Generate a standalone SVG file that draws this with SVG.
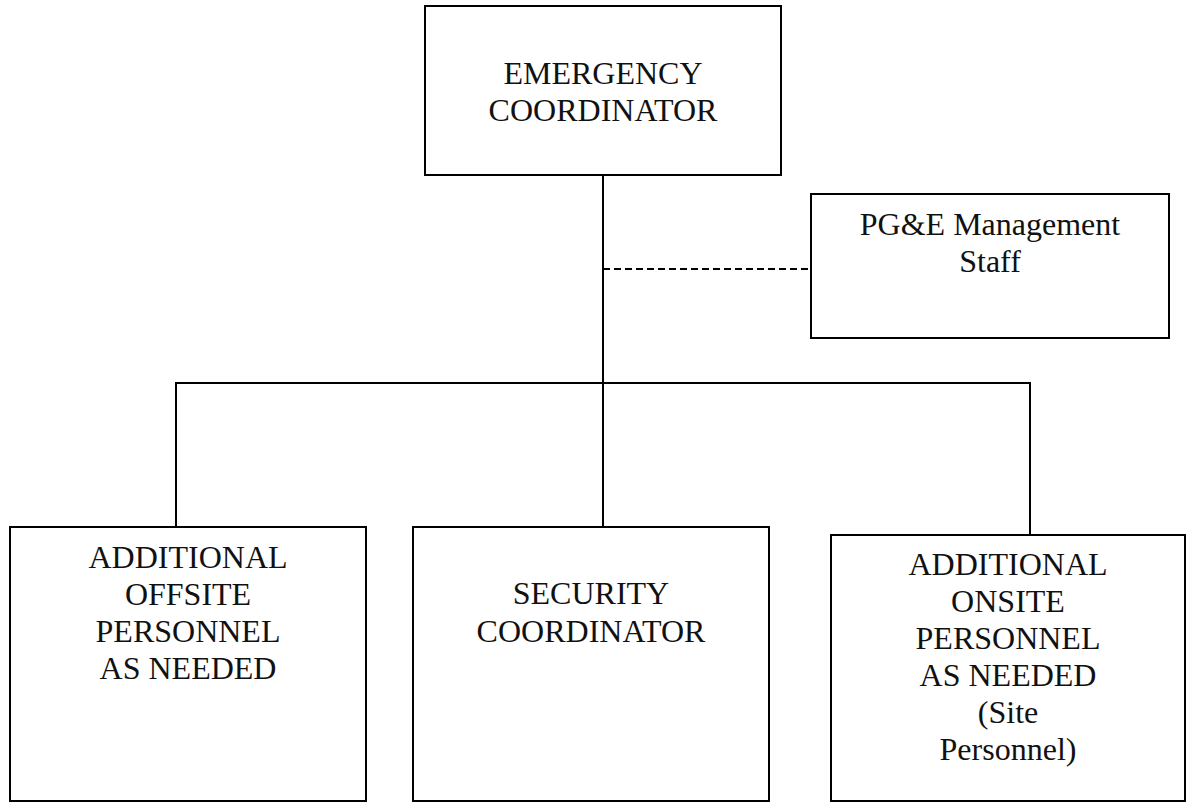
<svg xmlns="http://www.w3.org/2000/svg" width="1188" height="802" viewBox="0 0 1188 802">
<style>
.box{fill:#fff;stroke:#000;stroke-width:2}
.ln{fill:none;stroke:#000;stroke-width:2}
.dash{fill:none;stroke:#000;stroke-width:2;stroke-dasharray:7 4}
text{font-family:"Liberation Serif","Times New Roman",serif;font-size:32px;fill:#111;text-anchor:middle}
</style>
<rect width="1188" height="802" fill="#fff"/>
<g id="connectors">
<line class="ln" x1="603" y1="175" x2="603" y2="527"/>
<line class="dash" x1="603" y1="269" x2="811" y2="269"/>
<polyline class="ln" points="176,527 176,383 1030,383 1030,535"/>
</g>
<g id="emergency-coordinator">
<rect class="box" x="425" y="6" width="356" height="169"/>
<text x="603" y="84">EMERGENCY</text>
<text x="603" y="121">COORDINATOR</text>
</g>
<g id="pge-management">
<rect class="box" x="811" y="194" width="358" height="144"/>
<text x="990" y="235">PG&amp;E Management</text>
<text x="990" y="272">Staff</text>
</g>
<g id="offsite-personnel">
<rect class="box" x="10" y="527" width="356" height="274"/>
<text x="188" y="568">ADDITIONAL</text>
<text x="188" y="605">OFFSITE</text>
<text x="188" y="642">PERSONNEL</text>
<text x="188" y="679">AS NEEDED</text>
</g>
<g id="security-coordinator">
<rect class="box" x="413" y="527" width="356" height="274"/>
<text x="591" y="604">SECURITY</text>
<text x="591" y="642">COORDINATOR</text>
</g>
<g id="onsite-personnel">
<rect class="box" x="831" y="535" width="354" height="266"/>
<text x="1008" y="575">ADDITIONAL</text>
<text x="1008" y="612">ONSITE</text>
<text x="1008" y="649">PERSONNEL</text>
<text x="1008" y="686">AS NEEDED</text>
<text x="1008" y="723">(Site</text>
<text x="1008" y="760">Personnel)</text>
</g>
</svg>
